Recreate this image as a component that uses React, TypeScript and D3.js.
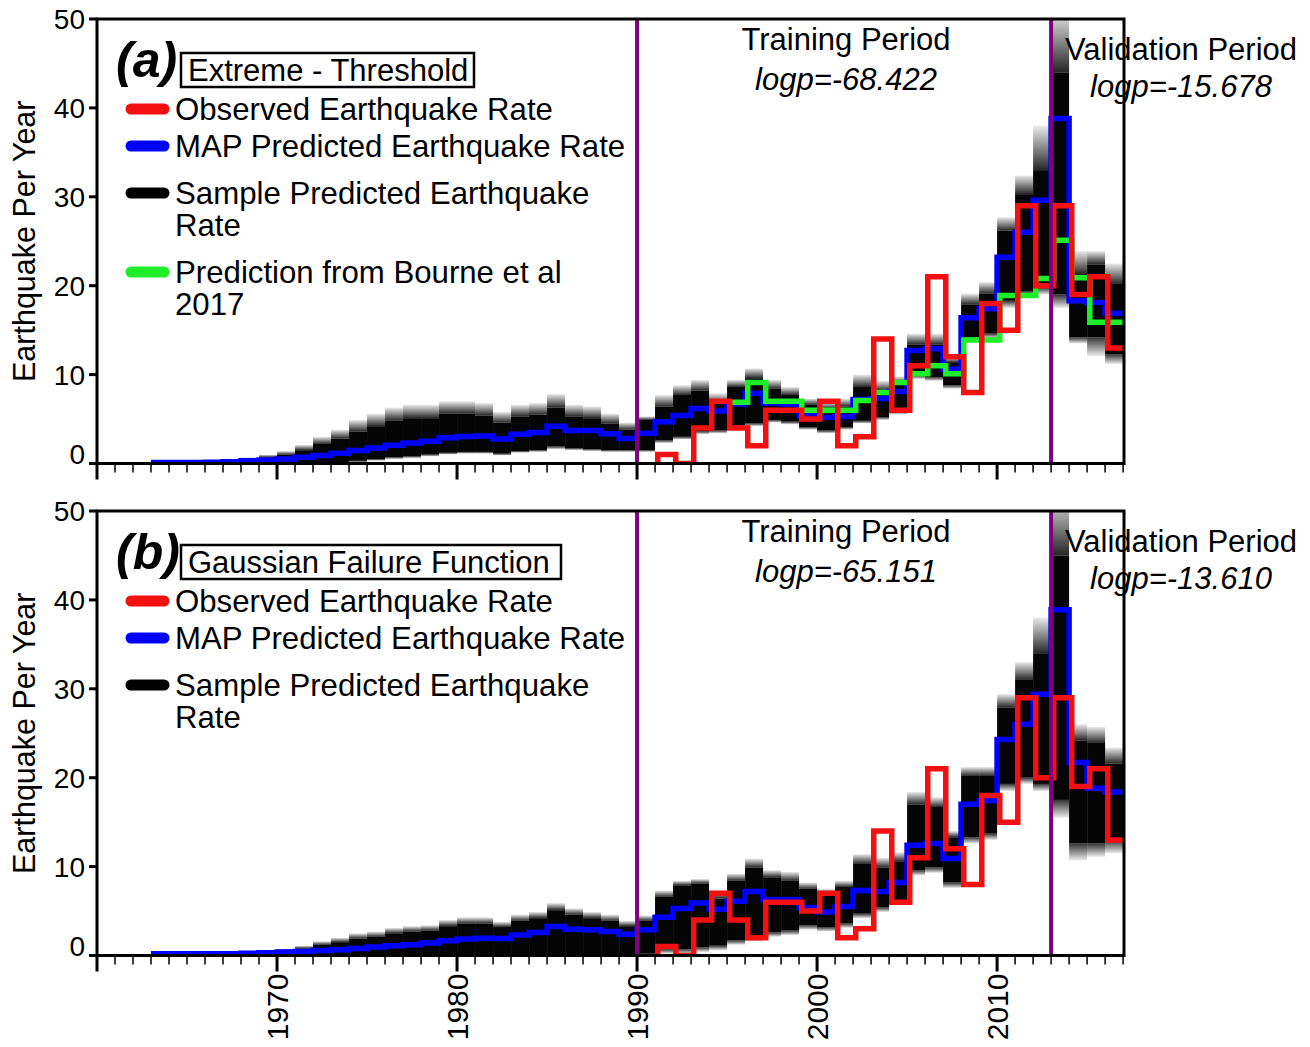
import React from 'react';
import * as d3 from 'd3';

// ---------- DATA ----------
const mapYears = d3.range(1963, 2017); // 1963..2016
const mapRateA = [0.1, 0.1, 0.1, 0.15, 0.2, 0.3, 0.4, 0.5, 0.7, 0.9, 1.15, 1.45, 1.75, 2.05, 2.3, 2.5, 2.9, 3.05, 3.1, 2.75, 3.3, 3.5, 4.2, 3.7, 3.7, 3.35, 2.8, 3.4, 4.7, 5.4, 6.2, 5.9, 6.7, 7.9, 6.8, 6.7, 5.4, 5.2, 5.3, 7.2, 7.3, 8.1, 12.7, 12.9, 10.6, 16.4, 17.4, 23.2, 26.0, 29.6, 38.8, 18.3, 18.1, 16.9];
const mapRateB = [0.2, 0.2, 0.2, 0.2, 0.2, 0.25, 0.3, 0.4, 0.45, 0.55, 0.65, 0.8, 0.95, 1.1, 1.2, 1.4, 1.65, 1.85, 1.95, 1.9, 2.3, 2.6, 3.25, 2.95, 2.9, 2.7, 2.4, 2.9, 4.3, 5.3, 5.9, 5.2, 6.1, 7.2, 6.3, 6.3, 5.4, 4.9, 5.5, 7.3, 7.2, 8.2, 12.4, 12.6, 10.9, 17.0, 17.4, 24.3, 26.0, 29.4, 38.9, 21.7, 18.8, 18.4];

const obsYears = d3.range(1991, 2017);
const observedRate = [1, 0, 4, 7, 4, 2, 6, 6, 5, 7, 2, 3, 14, 6, 11, 21, 12, 8, 18, 15, 29, 20, 29, 19, 21, 13];

const bourneYears = d3.range(1995, 2017);
const bourneRate = [6.9, 9.1, 7.0, 7.0, 6.0, 6.0, 6.0, 7.1, 8.0, 9.1, 10.1, 11.0, 10.1, 13.9, 13.9, 18.9, 18.9, 20.8, 25.1, 20.9, 15.9, 15.9];

// sample spread per year (same years as mapYears): faint bottom, dense bottom, dense top, faint top
const sampleMinA = [0, 0, 0, 0, 0, 0, 0, 0, 0, 0, 0, 0.1, 0.3, 0.5, 0.6, 0.8, 1.0, 1.1, 1.1, 0.9, 1.2, 1.3, 1.6, 1.5, 1.4, 1.3, 1.3, 1.3, 2.3, 2.7, 3.3, 3.4, 4.0, 4.2, 4.6, 4.4, 3.8, 3.4, 3.8, 4.5, 4.9, 5.5, 9.5, 9.3, 8.4, 13.7, 14.1, 17.5, 18.7, 19.0, 17.5, 13.5, 12.1, 11.2];
const sampleLoA = [0, 0, 0.05, 0.05, 0.05, 0.05, 0.05, 0.05, 0.05, 0.1, 0.1, 0.3, 0.5, 0.7, 0.8, 1.0, 1.2, 1.3, 1.3, 1.1, 1.4, 1.5, 1.9, 1.7, 1.6, 1.5, 1.5, 1.5, 2.6, 3.0, 3.6, 3.7, 4.3, 4.5, 4.9, 4.7, 4.1, 3.7, 4.1, 4.8, 5.2, 5.9, 9.9, 9.7, 8.8, 14.2, 14.6, 18.3, 19.4, 19.8, 19.0, 14.2, 14.2, 12.3];
const sampleHiA = [0.15, 0.15, 0.2, 0.25, 0.3, 0.45, 0.7, 1.0, 1.5, 2.2, 2.8, 3.6, 4.2, 4.8, 5.1, 5.1, 5.6, 5.6, 5.4, 4.6, 5.3, 5.5, 6.3, 5.3, 5.1, 4.5, 3.8, 4.9, 6.4, 7.7, 8.2, 6.7, 8.6, 9.6, 8.4, 7.7, 6.6, 6.2, 6.4, 8.6, 8.2, 9.0, 13.4, 13.4, 11.4, 17.9, 19.1, 26.2, 30.3, 33.0, 44.0, 21.3, 22.4, 20.2];
const sampleMaxA = [0.2, 0.2, 0.25, 0.35, 0.5, 0.7, 1.0, 1.4, 2.1, 3.0, 3.8, 4.9, 5.6, 6.3, 6.6, 6.6, 7.0, 7.0, 6.8, 5.8, 6.6, 6.8, 7.8, 6.6, 6.4, 5.6, 4.6, 5.3, 7.7, 8.8, 9.4, 7.9, 9.4, 10.7, 9.4, 8.6, 7.3, 6.9, 7.3, 10.0, 9.3, 9.8, 14.6, 14.6, 11.9, 19.1, 20.4, 27.7, 32.4, 38.0, 51.0, 23.9, 23.9, 22.5];

const sampleMinB = [0, 0, 0, 0, 0, 0, 0, 0, 0, 0, 0, 0, 0, 0, 0, 0, 0, 0, 0, 0, 0, 0, 0, 0, 0, 0, 0, 0, 0.2, 0.2, 0.4, 0.6, 1.2, 1.6, 2.1, 2.3, 2.9, 2.7, 3.1, 4.2, 4.9, 5.7, 9.0, 9.3, 7.6, 12.6, 13.0, 18.5, 19.3, 18.5, 15.5, 10.7, 11.1, 11.5];
const sampleLoB = [0, 0, 0, 0, 0, 0, 0, 0, 0, 0, 0, 0, 0, 0, 0, 0, 0, 0, 0, 0, 0, 0, 0, 0, 0, 0, 0, 0.2, 0.7, 0.7, 0.9, 1.1, 1.7, 2.1, 2.6, 2.8, 3.4, 3.2, 3.6, 4.7, 5.4, 6.2, 9.6, 9.9, 8.2, 13.3, 13.7, 19.3, 20.0, 19.3, 17.5, 12.6, 12.6, 13.0];
const sampleHiB = [0.2, 0.2, 0.2, 0.2, 0.25, 0.3, 0.4, 0.55, 0.8, 1.2, 1.5, 1.9, 2.1, 2.5, 2.7, 2.8, 3.3, 3.6, 3.6, 3.2, 3.9, 4.2, 5.1, 4.6, 4.2, 3.9, 3.3, 3.9, 6.6, 7.9, 8.1, 6.4, 8.4, 9.9, 8.8, 8.4, 7.5, 6.7, 7.7, 10.3, 9.9, 10.6, 17.0, 16.7, 13.3, 20.2, 20.2, 27.9, 31.0, 34.0, 45.0, 24.2, 23.9, 21.6];
const sampleMaxB = [0.25, 0.25, 0.25, 0.25, 0.3, 0.4, 0.5, 0.75, 1.1, 1.6, 2.0, 2.5, 2.7, 3.1, 3.3, 3.4, 4.0, 4.3, 4.3, 3.8, 4.6, 4.9, 5.9, 5.3, 4.9, 4.6, 3.9, 4.5, 7.3, 8.4, 8.6, 7.3, 9.2, 10.9, 9.6, 9.4, 8.2, 7.5, 8.4, 11.4, 11.0, 11.6, 18.4, 17.8, 14.0, 21.2, 21.2, 29.4, 33.0, 38.0, 52.0, 26.0, 25.7, 23.4];

const yTicks = [0, 10, 20, 30, 40, 50];
const xMajorTicks = [1970, 1980, 1990, 2000, 2010];
const xMinorTicks = d3.range(1960, 2018);
const periodLines = [1990, 2013];

const panelA = {
  letter: '(a)',
  model: 'Extreme - Threshold',
  trainLogp: 'logp=-68.422',
  valLogp: 'logp=-15.678',
};
const panelB = {
  letter: '(b)',
  model: 'Gaussian Failure Function',
  trainLogp: 'logp=-65.151',
  valLogp: 'logp=-13.610',
};

// ---------- STYLE ----------
const FONT = '"Liberation Sans", Arial, Helvetica, sans-serif';
const RED = '#f21010';
const BLUE = '#0000ff';
const GREEN = '#1eee2a';
const PURPLE = '#800080';
const X0 = 97;
const X1 = 1124;
const OBS_OFFSET = 0.15;

const x = d3.scaleLinear().domain([1960, 2017.05]).range([X0, X1]);

function stepPath(years: number[], vals: number[], yS: d3.ScaleLinear<number, number>, off: number, startAtZero: boolean) {
  const pts: [number, number][] = years.map((yr, i) => [yr + off, vals[i]]);
  if (startAtZero) pts.unshift([years[0] + off, 0]);
  pts.push([years[years.length - 1] + 1 + off, vals[vals.length - 1]]);
  const line = d3
    .line<[number, number]>()
    .x((d) => x(d[0]))
    .y((d) => yS(d[1]))
    .curve(d3.curveStepAfter);
  return line(pts) || '';
}

function Panel({ top, bottom, info, mapRate, sMin, sLo, sHi, sMax, showBourne, showXLabels, id }: any) {
  const y = d3.scaleLinear().domain([0, 50]).range([bottom, top]);
  const clipId = 'clip' + id;
  const legendItems: { color: string; lines: string[] }[] = [
    { color: RED, lines: ['Observed Earthquake Rate'] },
    { color: BLUE, lines: ['MAP Predicted Earthquake Rate'] },
    { color: '#000', lines: ['Sample Predicted Earthquake', 'Rate'] },
  ];
  if (showBourne) legendItems.push({ color: GREEN, lines: ['Prediction from Bourne et al', '2017'] });
  const legendCenters = showBourne ? [90, 127, 174, 253] : [90, 127, 174];

  return (
    <g fontFamily={FONT}>
      <defs>
        <clipPath id={clipId}>
          <rect x={X0} y={top} width={X1 - X0} height={bottom - top} />
        </clipPath>
      </defs>
      <g clipPath={`url(#${clipId})`}>
        {/* sample spread */}
        {mapYears.map((yr, i) => {
          const xa = x(yr);
          const w = x(yr + 1) - xa;
          return (
            <g key={'s' + yr}>
              <rect x={xa} width={w} y={y(sHi[i])} height={Math.max(0, y(sLo[i]) - y(sHi[i]))} fill="#050505" />
              <rect x={xa} width={w} y={y(sMax[i])} height={Math.max(0, y(sHi[i]) - y(sMax[i]))} fill="url(#fadeUp)" />
              <rect x={xa} width={w} y={y(sLo[i])} height={Math.max(0, y(sMin[i]) - y(sLo[i]))} fill="url(#fadeDown)" />
            </g>
          );
        })}
        <path d={stepPath(mapYears, mapRate, y, 0, false)} fill="none" stroke={BLUE} strokeWidth={5.5} />
        {showBourne && <path d={stepPath(bourneYears, bourneRate, y, OBS_OFFSET, false)} fill="none" stroke={GREEN} strokeWidth={5.5} />}
        <path d={stepPath(obsYears, observedRate, y, OBS_OFFSET, true)} fill="none" stroke={RED} strokeWidth={5.5} strokeLinejoin="miter" />
        {periodLines.map((p) => (
          <line key={p} x1={x(p)} x2={x(p)} y1={top} y2={bottom} stroke={PURPLE} strokeWidth={4} />
        ))}
      </g>

      {/* frame */}
      <rect x={X0} y={top} width={X1 - X0} height={bottom - top} fill="none" stroke="#000" strokeWidth={3} />

      {/* y axis */}
      {yTicks.map((t) => (
        <g key={'y' + t}>
          <line x1={X0 - 8} x2={X0} y1={y(t)} y2={y(t)} stroke="#000" strokeWidth={3} />
          <text x={85} y={y(t) + (t === 0 ? -10 : 0) + 10} textAnchor="end" fontSize={28}>
            {t}
          </text>
        </g>
      ))}
      <text transform={`translate(35, ${(top + bottom) / 2}) rotate(-90)`} textAnchor="middle" fontSize={30.5}>
        Earthquake Per Year
      </text>

      {/* x axis ticks */}
      {xMinorTicks.map((t) => {
        const major = t % 10 === 0;
        return <line key={'x' + t} x1={x(t)} x2={x(t)} y1={bottom} y2={bottom + (major ? 16 : 9)} stroke="#000" strokeWidth={major ? 3 : 1.5} />;
      })}
      {showXLabels &&
        xMajorTicks.map((t) => (
          <text key={'xl' + t} transform={`translate(${x(t) + 10.5}, ${bottom + 18}) rotate(-90)`} textAnchor="end" fontSize={30}>
            {t}
          </text>
        ))}

      {/* period annotations */}
      <text x={846} y={top + 31} textAnchor="middle" fontSize={31}>Training Period</text>
      <text x={846} y={top + 71} textAnchor="middle" fontSize={31} fontStyle="italic">{info.trainLogp}</text>
      <text x={1181} y={top + 41} textAnchor="middle" fontSize={31}>Validation Period</text>
      <text x={1181} y={top + 78} textAnchor="middle" fontSize={31} fontStyle="italic">{info.valLogp}</text>

      {/* panel letter and model box */}
      <text x={116} y={top + 58} fontSize={50} fontWeight="bold" fontStyle="italic">{info.letter}</text>
      <g>
        <text x={188} y={top + 62} fontSize={31}>{info.model}</text>
        <rect
          x={181}
          y={top + 34}
          width={info.model.length > 20 ? 380 : 293}
          height={34}
          fill="none"
          stroke="#000"
          strokeWidth={2.5}
        />
      </g>

      {/* legend */}
      {legendItems.map((it, i) => {
        const cy = top + legendCenters[i];
        return (
          <g key={'lg' + i}>
            <line x1={131} x2={164} y1={cy} y2={cy} stroke={it.color} strokeWidth={11} strokeLinecap="round" />
            {it.lines.map((ln, j) => (
              <text key={j} x={175} y={cy + 11 + j * 32} fontSize={31.2}>{ln}</text>
            ))}
          </g>
        );
      })}
    </g>
  );
}

export default function App() {
  return (
    <svg width={1310} height={1047} style={{ position: 'absolute', left: 0, top: 0, background: '#fff' }}>
      <defs>
        <linearGradient id="fadeUp" x1="0" y1="1" x2="0" y2="0">
          <stop offset="0" stopColor="#000" stopOpacity={0.85} />
          <stop offset="1" stopColor="#000" stopOpacity={0.08} />
        </linearGradient>
        <linearGradient id="fadeDown" x1="0" y1="0" x2="0" y2="1">
          <stop offset="0" stopColor="#000" stopOpacity={0.8} />
          <stop offset="1" stopColor="#000" stopOpacity={0.08} />
        </linearGradient>
      </defs>
      <rect width={1310} height={1047} fill="#fff" />
      <Panel
        id="a"
        top={19}
        bottom={463.5}
        info={panelA}
        mapRate={mapRateA}
        sMin={sampleMinA}
        sLo={sampleLoA}
        sHi={sampleHiA}
        sMax={sampleMaxA}
        showBourne={true}
        showXLabels={false}
      />
      <Panel
        id="b"
        top={511}
        bottom={955.5}
        info={panelB}
        mapRate={mapRateB}
        sMin={sampleMinB}
        sLo={sampleLoB}
        sHi={sampleHiB}
        sMax={sampleMaxB}
        showBourne={false}
        showXLabels={true}
      />
    </svg>
  );
}
